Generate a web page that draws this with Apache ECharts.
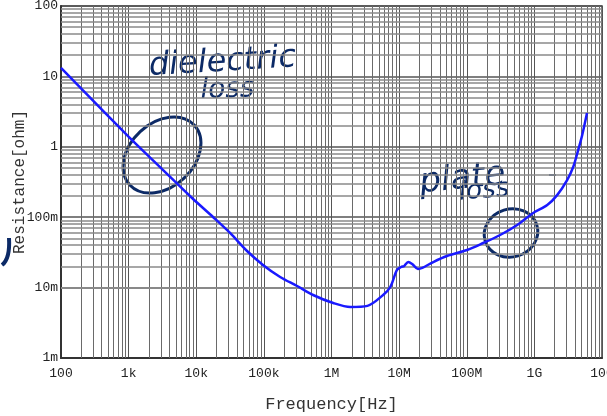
<!DOCTYPE html>
<html>
<head>
<meta charset="utf-8">
<script src="https://cdn.jsdelivr.net/npm/echarts@6/dist/echarts.min.js"></script>
<style>
html,body{margin:0;padding:0;background:#fff;}
#chart{width:607px;height:416px;}
</style>
</head>
<body>
<div id="chart"></div>
<script>
// Frequency [Hz]
var freq = [100, 979, 2914, 8670, 17700, 31600, 56400, 97000, 174000, 310000, 534000, 1.06e6, 1.9e6, 3.4e6, 5.8e6, 7.4e6, 9.3e6, 10.7e6, 11.9e6, 13.6e6, 15.6e6, 19e6, 22e6, 32e6, 51e6, 101e6, 175e6, 312e6, 557e6, 960e6, 1.55e9, 2.17e9, 3.05e9, 3.75e9, 4.45e9, 5.1e9, 6.0e9];
// Resistance [ohm]
var resistance = [13.2, 1.42, 0.516, 0.1875, 0.1007, 0.0597, 0.0331, 0.0210, 0.01416, 0.01054, 0.00785, 0.00604, 0.0053, 0.0055, 0.00785, 0.0102, 0.0178, 0.0196, 0.0203, 0.0231, 0.0216, 0.0184, 0.019, 0.0231, 0.0281, 0.0342, 0.043, 0.0559, 0.0775, 0.115, 0.149, 0.206, 0.337, 0.516, 0.902, 1.47, 3.02];

var xTickLabels = {100:'100', 1e3:'1k', 1e4:'10k', 1e5:'100k', 1e6:'1M', 1e7:'10M', 1e8:'100M', 1e9:'1G', 1e10:'10G'};
var yTickLabels = {0.001:'1m', 0.01:'10m', 0.1:'100m', 1:'1', 10:'10', 100:'100'};

var xMinor = [], yMinor = [];
for (var e = 2; e < 10; e++) for (var m = 2; m < 10; m++) xMinor.push(m * Math.pow(10, e));
for (var e2 = -3; e2 < 2; e2++) for (var m2 = 2; m2 < 10; m2++) yMinor.push(+(m2 * Math.pow(10, e2)).toPrecision(3));

function lbl(map, v) {
  for (var k in map) { if (Math.abs(Math.log10(+k) - Math.log10(v)) < 1e-6) return map[k]; }
  return '';
}

var mono = '"Liberation Mono", "DejaVu Sans Mono", monospace';
var ink = '#0c2a66';
var chart = echarts.init(document.getElementById('chart'), null, {renderer: 'canvas'});

var minorLines = [];
xMinor.forEach(function (v) { minorLines.push({xAxis: v, lineStyle: {color: '#6a6a6a', width: 1, type: 'solid'}}); });
yMinor.forEach(function (v) { minorLines.push({yAxis: v, lineStyle: {color: '#8a8a8a', width: 1.6, type: 'solid'}}); });

chart.setOption({
  animation: false,
  backgroundColor: '#fff',
  grid: {left: 61, right: 5, top: 6, bottom: 58, show: true, borderColor: '#444', borderWidth: 1.5, containLabel: false, outerBoundsMode: 'none'},
  xAxis: {
    type: 'log', logBase: 10, min: 100, max: 1e10,
    name: 'Frequency[Hz]', nameLocation: 'middle', nameGap: 38, nameMoveOverlap: false,
    nameTextStyle: {fontFamily: mono, fontSize: 17, color: '#333', verticalAlign: 'top'},
    axisLine: {lineStyle: {color: '#333', width: 2}},
    axisTick: {show: false},
    axisLabel: {fontFamily: mono, fontSize: 13, color: '#222', margin: 9, formatter: function (v) { return lbl(xTickLabels, v); }},
    splitLine: {show: true, lineStyle: {color: '#555', width: 1}}
  },
  yAxis: {
    type: 'log', logBase: 10, min: 0.001, max: 100,
    name: 'Resistance[ohm]', nameLocation: 'middle', nameGap: 41, nameMoveOverlap: false,
    nameTextStyle: {fontFamily: mono, fontSize: 16, color: '#333', verticalAlign: 'middle'},
    axisLine: {lineStyle: {color: '#333', width: 2}},
    axisTick: {show: false},
    axisLabel: {fontFamily: mono, fontSize: 13, color: '#222', margin: 3, formatter: function (v) { return lbl(yTickLabels, v); }},
    splitLine: {show: true, lineStyle: {color: '#555', width: 1.5}}
  },
  series: [{
    type: 'line',
    data: freq.map(function (f, i) { return [f, resistance[i]]; }),
    showSymbol: false,
    smooth: 0.3,
    lineStyle: {color: '#1a1aff', width: 2.5},
    z: 5,
    markLine: {silent: true, symbol: ['none', 'none'], label: {show: false}, animation: false, data: minorLines, z: 1}
  }],
  graphic: [
    {type: 'text', left: 148, top: 42, rotation: 0.06, style: {text: 'dielectric', font: 'italic 32px "DejaVu Sans"', fill: ink}},
    {type: 'text', left: 200, top: 75, rotation: 0.03, style: {text: 'loss', font: 'italic 28px "DejaVu Sans"', fill: ink}},
    {type: 'ellipse', x: 162, y: 155, rotation: 0.75, shape: {cx: 0, cy: 0, rx: 44, ry: 32}, style: {fill: 'none', stroke: ink, lineWidth: 3}},
    {type: 'text', left: 418, top: 158, rotation: 0.1, style: {text: 'plate', font: 'italic 34px "DejaVu Sans"', fill: ink}},
    {type: 'text', left: 458, top: 176, rotation: 0.08, style: {text: 'loss', font: 'italic 26px "DejaVu Sans"', fill: ink}},
    {type: 'ellipse', x: 511, y: 233, rotation: 0.3, shape: {cx: 0, cy: 0, rx: 27, ry: 24}, style: {fill: 'none', stroke: ink, lineWidth: 3}},
    {type: 'line', shape: {x1: 549, y1: 175, x2: 556, y2: 175}, style: {stroke: ink, lineWidth: 1.5}},
    {type: 'bezierCurve', shape: {x1: 9, y1: 238, x2: 2, y2: 265, cpx1: 10, cpy1: 255, cpx2: 6, cpy2: 262}, style: {stroke: ink, lineWidth: 4, fill: 'none'}}
  ]
});
</script>
</body>
</html>
